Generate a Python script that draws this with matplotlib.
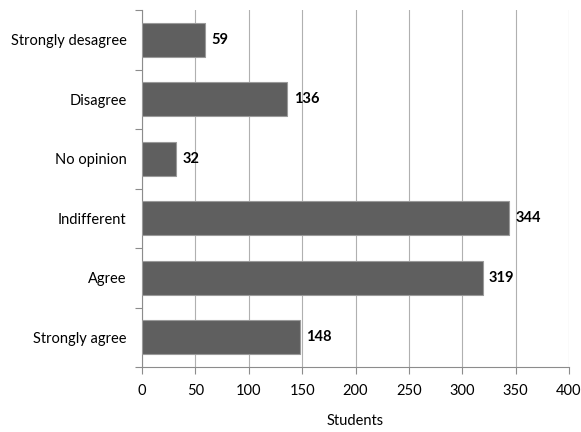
import matplotlib
matplotlib.use("Agg")
import matplotlib.pyplot as plt
import numpy as np

categories = ["Strongly desagree", "Disagree", "No opinion", "Indifferent", "Agree", "Strongly agree"]
values = [59, 136, 32, 344, 319, 148]
xticks = [0, 50, 100, 150, 200, 250, 300, 350, 400]

plt.rcParams['font.family'] = ['Lato', 'DejaVu Sans']

fig = plt.figure(figsize=(5.81, 4.32), dpi=100)
ax = fig.add_axes([142/581, 65/432, 427/581, 357/432])

n = len(categories)
ypos = np.arange(n)[::-1]
ax.barh(ypos, values, height=0.57, color="#5f5f5f", edgecolor="#9a9a9a", linewidth=0.8, zorder=3)
for y, v in zip(ypos, values):
    ax.text(v + 6, y, str(v), va="center", ha="left", fontsize=10.5, fontweight="bold", color="#000000")

ax.set_xlim(0, 400)
ax.set_ylim(-0.5, n - 0.5)
ax.set_xticks(xticks)
ax.set_xticklabels([str(t) for t in xticks], fontsize=10.5)
ax.set_yticks(ypos)
ax.set_yticklabels(categories, fontsize=10.5)
ax.set_yticks(np.arange(-0.5, n, 1.0), minor=True)
ax.tick_params(axis="y", which="major", length=0, pad=11)
ax.tick_params(axis="y", which="minor", length=5, color="#8c8c8c", width=0.8)
ax.tick_params(axis="x", which="major", length=5, color="#8c8c8c", width=0.8, pad=7)
ax.grid(axis="x", color="#b0b0b0", linewidth=0.8, zorder=0)
for s in ["top", "right"]:
    ax.spines[s].set_visible(False)
for s in ["left", "bottom"]:
    ax.spines[s].set_color("#8c8c8c")
    ax.spines[s].set_linewidth(0.8)
ax.set_xlabel("Students", fontsize=10.5, labelpad=12)

fig.savefig("out.png", dpi=100)
